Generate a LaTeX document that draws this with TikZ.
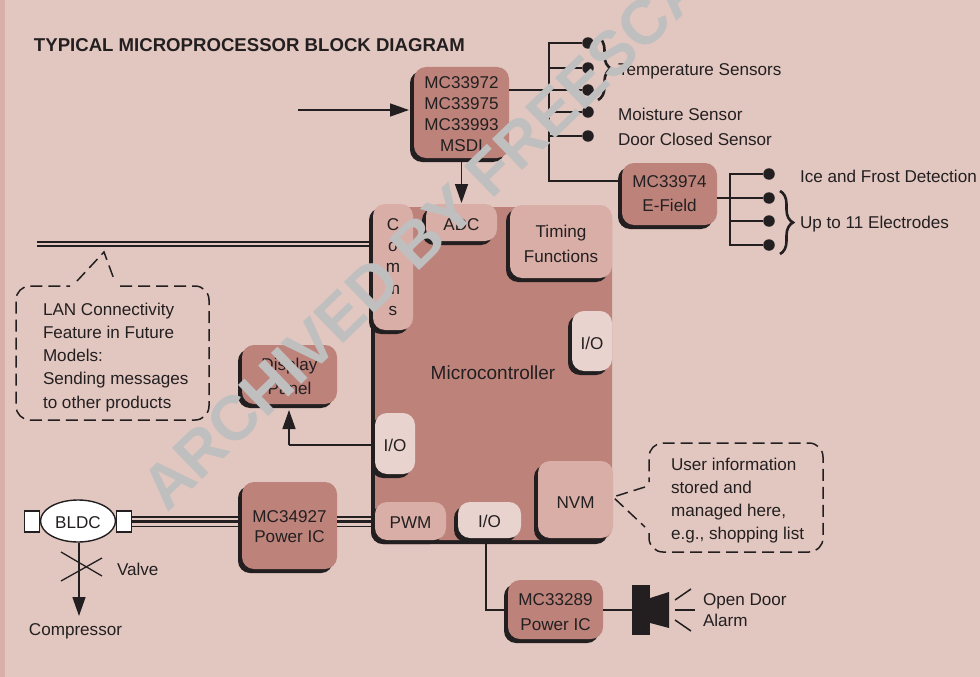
\documentclass[tikz,border=0pt]{standalone}
\usepackage{fontspec}
\setmainfont{Liberation Sans}
\usetikzlibrary{arrows.meta,shadows,shapes.geometric,decorations.pathreplacing}
\definecolor{bgc}{HTML}{E2C7C0}
\definecolor{stripc}{HTML}{DBAFA9}
\definecolor{blockc}{HTML}{BD837B}
\definecolor{lightc}{HTML}{D9AEA7}
\definecolor{palec}{HTML}{E9D3CE}
\definecolor{darkc}{HTML}{231F20}
\definecolor{wmc}{HTML}{BFBFBF}
\newcommand{\lblsp}[1]{\fontsize{17.1}{#1}\selectfont}
\newcommand{\lbl}{\lblsp{23.2}}
\newcommand{\dn}[1]{\rule{0pt}{\dimexpr 12.3pt+#1pt*2\relax}}
\tikzset{
  blk/.style={rounded corners=12pt,inner sep=0pt,outer sep=0pt,align=center,text=darkc,font=\lbl,fill=blockc,
    general shadow={fill=darkc,shadow xshift=-4pt,shadow yshift=-4pt}},
  lightblk/.style={blk,fill=lightc},
  paleblk/.style={blk,fill=palec},
  txt/.style={inner sep=0pt,outer sep=0pt,text=darkc,font=\lbl,align=left,anchor=west},
  wire/.style={draw=darkc,line width=1.5pt},
  thinwire/.style={draw=darkc,line width=1.3pt},
  arr/.style={wire,-{Triangle[length=19pt,width=13pt]}},
  dotn/.style={circle,fill=darkc,inner sep=0pt,minimum size=11.5pt},
  dashbox/.style={draw=darkc,line width=1.5pt,dash pattern=on 12pt off 6pt,rounded corners=14pt},
  dashtail/.style={draw=darkc,line width=1.5pt,dash pattern=on 12pt off 6pt},
  bracew/.style={draw=darkc,line width=2.6pt,decorate,decoration={brace,amplitude=13pt,aspect=0.5}},
  whitebox/.style={draw=darkc,line width=1.3pt,fill=white,inner sep=0pt},
}
\newcommand{\blocknode}[7]{\node[#2,minimum width={(#5-#3)*1pt},minimum height={(#6-#4)*1pt}] (#1) at ({(#3+#5)/2},{(#4+#6)/2}) {#7};}
\begin{document}
\begin{tikzpicture}[x=1pt,y=-1pt]
\useasboundingbox (0,0) rectangle (980,677);
\fill[bgc] (0,0) rectangle (980,677);
\fill[stripc] (0,0) rectangle (5,677);

\node[txt,font=\fontsize{18.6}{22}\selectfont\bfseries] (title) at (34,45) {TYPICAL MICROPROCESSOR BLOCK DIAGRAM};

% microcontroller
\blocknode{micro}{blk}{375}{207}{612}{540}{}
\node[text=darkc,font=\fontsize{19}{22}\selectfont,inner sep=0pt] (microlab) at (493,373) {Microcontroller};
\blocknode{comms}{lightblk,font=\lblsp{21.4}}{373}{204}{413}{330}{C\\o\\m\\m\\s}
\blocknode{adc}{lightblk}{426}{204}{497}{241}{\dn{2}ADC}
\blocknode{timing}{lightblk,font=\lblsp{25}}{510}{205}{612}{278}{\dn{2.5}Timing\\Functions}
\blocknode{iob}{paleblk}{572}{311}{612}{371}{\dn{2}I/O}
\blocknode{ioa}{paleblk}{375}{413}{415}{474}{\dn{2}I/O}
\blocknode{pwm}{lightblk}{375}{502}{446}{540}{\dn{1}PWM}
\blocknode{ioc}{paleblk}{458}{502}{521}{538}{\dn{1}I/O}
\blocknode{nvm}{lightblk}{538}{461}{613}{538}{\dn{2.5}NVM}

% outer blocks
\blocknode{sens}{blk,font=\lblsp{21}}{414}{67}{509}{158}{\dn{1}MC33972\\MC33975\\MC33993\\MSDI}
\blocknode{efield}{blk,font=\lblsp{24}}{622}{163}{717}{225}{MC33974\\E-Field}
\blocknode{disp}{blk,font=\lblsp{24}}{242}{345}{337}{404}{\dn{2}Display\\Panel}
\blocknode{drv}{blk,font=\lblsp{19.5}}{242}{482}{337}{569}{\dn{1}MC34927\\Power IC}
\blocknode{alarmic}{blk,font=\lblsp{25}}{508}{580}{603}{639}{\dn{2}MC33289\\Power IC}

% sensor inputs
\coordinate (inS) at (298,110);
\draw[arr] (inS) -- ([xshift=-5pt]sens.west |- inS);
\draw[arr] ([yshift=-4pt]sens.south) -- ([yshift=1pt]adc.north);
\node[dotn] (t1) at (588,43) {};
\node[dotn] (t2) at (588,68) {};
\node[dotn] (t3) at (588,90) {};
\node[dotn] (t4) at (588,112) {};
\node[dotn] (t5) at (588,136) {};
\coordinate (busT) at (549,43);
\coordinate (busB) at (549,181);
\draw[wire] (t1) -- (busT) -- (busB) -- ([xshift=-4pt]efield.west |- busB);
\draw[wire] (t2) -- (busT |- t2);
\draw[wire] (t3) -- (sens.east |- t3);
\draw[wire] (t4) -- (busT |- t4);
\draw[wire] (t5) -- (busT |- t5);
\coordinate (brT) at (598,37);
\coordinate (brB) at (598,100);
\draw[bracew] (brT) -- (brB);
\node[txt] (temp) at (618,71) {Temperature Sensors};
\node[txt] (moist) at (618,114) {Moisture Sensor};
\node[txt] (door) at (618,139.5) {Door Closed Sensor};

% e-field outputs
\node[dotn] (e1) at (769,174) {};
\node[dotn] (e2) at (769,198) {};
\node[dotn] (e3) at (769,221) {};
\node[dotn] (e4) at (769,245) {};
\coordinate (ebus) at (730,198);
\draw[wire] (e1) -- (ebus |- e1) -- (ebus |- e4) -- (e4);
\draw[wire] (efield.east |- e2) -- (e2);
\draw[wire] (ebus |- e3) -- (e3);
\coordinate (ebT) at (780,191);
\coordinate (ebB) at (780,254);
\draw[bracew] (ebT) -- (ebB);
\node[txt] (ice) at (800,176.5) {Ice and Frost Detection};
\node[txt] (elec) at (800,224) {Up to 11 Electrodes};

% LAN
\coordinate (lanA) at (37,242);
\coordinate (lanB) at (37,246);
\draw[wire] (lanA) -- (lanA -| comms.west);
\draw[wire] (lanB) -- (lanB -| comms.west);
\node[txt,anchor=north west] (lantext) at (43,303) {LAN Connectivity\\Feature in Future\\Models:\\Sending messages\\to other products};
\coordinate (ltA) at (77,281);
\coordinate (ltP) at (104,252);
\coordinate (ltB) at (115,282);
\draw[dashtail] (ltA) -- (ltP) -- (ltB);
\draw[dashbox] (120,286) -- (209,286) -- (209,420) -- (16,420) -- (16,286) -- (70,286);

% display arrow
\coordinate (dbend) at (289,445);
\draw[wire] ([xshift=-4pt]ioa.west |- dbend) -- (dbend);
\draw[arr] (dbend) -- (289,410);

% motor
\node[ellipse,draw=darkc,line width=1.4pt,fill=white,minimum width=75pt,minimum height=42pt,inner sep=0pt,font=\lbl,text=darkc] (bldc) at (78,521) {\dn{1}BLDC};
\node[whitebox,minimum width=15pt,minimum height=21pt] (ml) at (32,521.5) {};
\node[whitebox,minimum width=15pt,minimum height=21pt] (mr) at (124,521.5) {};
\draw[thinwire] ([yshift=4.5pt]mr.east) -- ([yshift=4.5pt,xshift=-4pt]drv.west |- mr);
\draw[wire,line width=3.4pt] (mr.east) -- ([xshift=-4pt]drv.west |- mr);
\draw[thinwire] ([yshift=-5pt]mr.east) -- ([yshift=-5pt,xshift=-4pt]drv.west |- mr);
\draw[thinwire] ([yshift=4.5pt]drv.east |- mr) -- ([yshift=4.5pt,xshift=-4pt]pwm.west |- mr);
\draw[wire,line width=3.4pt] (drv.east |- mr) -- ([xshift=-4pt]pwm.west |- mr);
\draw[thinwire] ([yshift=-5pt]drv.east |- mr) -- ([yshift=-5pt,xshift=-4pt]pwm.west |- mr);
\coordinate (compT) at (79,616);
\draw[arr] (bldc.south -| compT) -- (compT);
\draw[thinwire] (61,552) -- (102,576);
\draw[thinwire] (61,581) -- (102,558);
\node[txt] (valve) at (117,569) {Valve};
\node[txt,anchor=center] (compr) at (75.5,631) {Compressor};

% NVM callout
\coordinate (ntA) at (645,487);
\coordinate (ntP) at (613,497);
\coordinate (ntB) at (645,527);
\draw[dashtail] (ntA) -- (ntP) -- (ntB);
\draw[dashbox] (649,533) -- (649,552) -- (823,552) -- (823,443) -- (649,443) -- (649,482);
\node[txt,anchor=north west] (nvmtext) at (671,458) {User information\\stored and\\managed here,\\e.g., shopping list};

% alarm
\coordinate (abend) at (486,610);
\draw[wire] ([yshift=-4pt]abend |- ioc.south) -- (abend) -- ([xshift=-4pt]alarmic.west |- abend);
\node[fill=darkc,minimum width=18pt,minimum height=50pt,inner sep=0pt] (spk) at (641,610) {};
\fill[darkc] (spk.east |- 0,598) -- (669,592) -- (669,628) -- (spk.east |- 0,623) -- cycle;
\draw[wire] (alarmic.east |- spk) -- (spk.west);
\draw[wire] (675,600) -- (691,589);
\draw[wire] (675,610) -- (695,610);
\draw[wire] (675,620) -- (691,631);
\node[txt,anchor=north west,font=\lblsp{21}] (alarmtxt) at (703,594) {Open Door\\Alarm};

% watermark
\begin{scope}
\clip (0,0) rectangle (980,677);
\node[rotate=44,anchor=base west,inner sep=0pt,text=wmc,font=\fontsize{63}{70}\selectfont\bfseries] (wm) at (167,514) {ARCHIVED BY FREESCALE};
\end{scope}
\end{tikzpicture}
\end{document}
